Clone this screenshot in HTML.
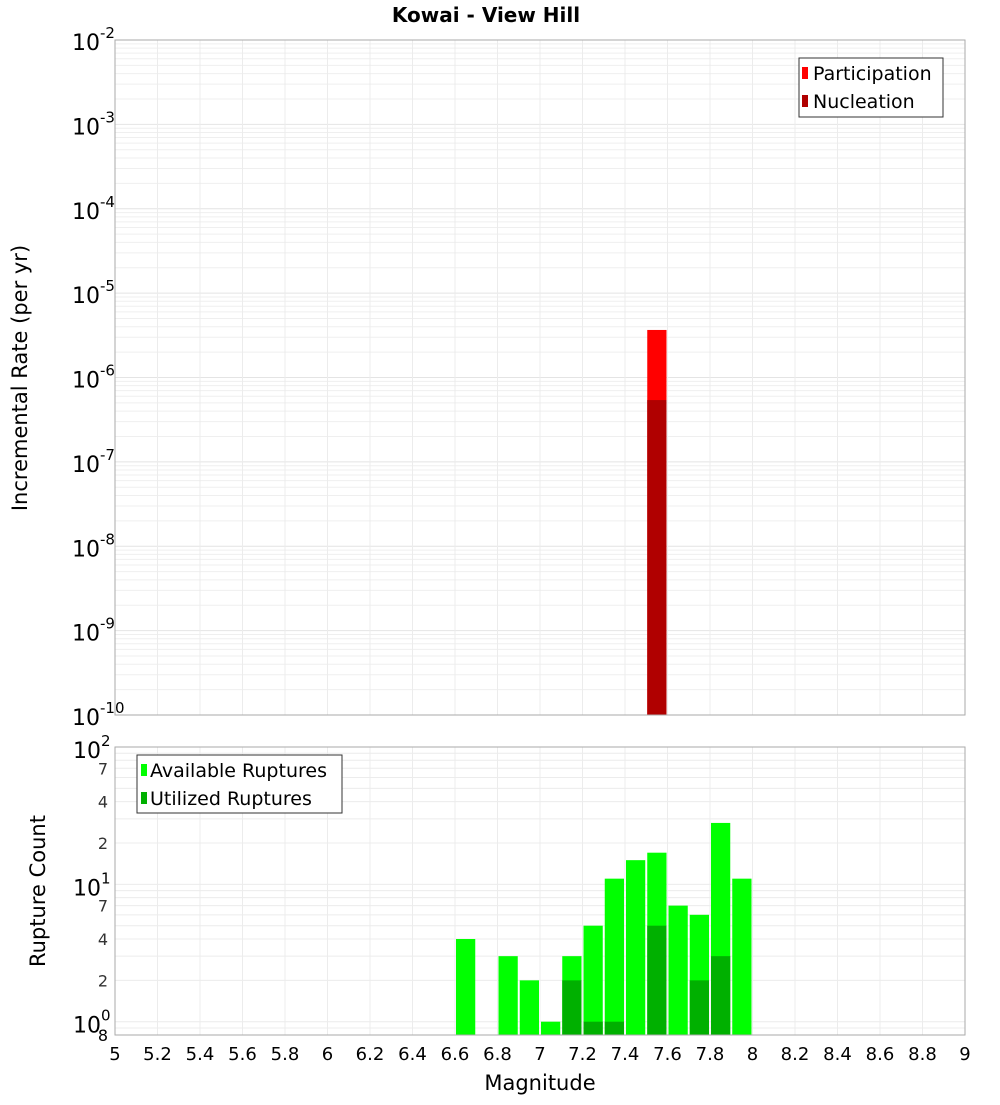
<!DOCTYPE html>
<html><head><meta charset="utf-8"><style>
body{margin:0;background:#fff}
svg text{font-family:"DejaVu Sans","Liberation Sans",sans-serif}
</style></head><body>
<svg id="c" width="1000" height="1100" xmlns="http://www.w3.org/2000/svg">
<text x="486" y="22" text-anchor="middle" font-size="20" font-weight="bold">Kowai - View Hill</text>
<g id="topplot"></g>
<g id="botplot"></g>
<text x="540" y="1090" text-anchor="middle" font-size="21">Magnitude</text>
<text transform="translate(27,378) rotate(-90)" text-anchor="middle" font-size="21">Incremental Rate (per yr)</text>
<text transform="translate(45,891) rotate(-90)" text-anchor="middle" font-size="21">Rupture Count</text>
</svg>
<script>
const xTicks=[5,5.2,5.4,5.6,5.8,6,6.2,6.4,6.6,6.8,7,7.2,7.4,7.6,7.8,8,8.2,8.4,8.6,8.8,9];
const xTickLabels=["5","5.2","5.4","5.6","5.8","6","6.2","6.4","6.6","6.8","7","7.2","7.4","7.6","7.8","8","8.2","8.4","8.6","8.8","9"];
const rateMags=[7.55];
const participation=[3.66e-6];
const nucleation=[5.4e-7];
const topDecades=[-2,-3,-4,-5,-6,-7,-8,-9,-10];
const countMags=[6.65,6.85,6.95,7.05,7.15,7.25,7.35,7.45,7.55,7.65,7.75,7.85,7.95];
const available=[4,3,2,1,3,5,11,15,17,7,6,28,11];
const utilized=[0,0,0,0,2,1,1,0,5,0,2,3,0];
const botMajor=[2,1,0];
const botMinor=["7","4","2"];

const NS="http://www.w3.org/2000/svg";
const X0=115,X1=965;
const sx=m=>X0+(m-5)/4*(X1-X0);
const TY0=40,TY1=715;
const ty=v=>TY0+(-2-Math.log10(v))/8*(TY1-TY0);
const BY0=747,BY1=1035,BMIN=0.8,BMAX=100;
const by=v=>BY0+(Math.log10(BMAX)-Math.log10(v))/(Math.log10(BMAX)-Math.log10(BMIN))*(BY1-BY0);
function el(p,t,a,txt){const e=document.createElementNS(NS,t);for(const k in a)e.setAttribute(k,a[k]);if(txt!=null)e.textContent=txt;p.appendChild(e);return e;}
const topG=document.getElementById('topplot'),botG=document.getElementById('botplot');

for(let d=-10;d<-2;d++)for(let k=1;k<10;k++){const y=ty(k*Math.pow(10,d));
 const g=el(topG,'line',{x1:X0,x2:X1,y1:y,y2:y,stroke:k==1?'#e4e4e4':'#efefef','stroke-width':1});
 
 }
xTicks.forEach(t=>{const g=el(topG,'line',{x1:sx(t),x2:sx(t),y1:TY0,y2:TY1,stroke:'#ececec'});
 
 });
rateMags.forEach((m,i)=>{
 const w=(sx(0.1)-sx(0))-2,x=sx(m)-w/2;
 const p=el(topG,'rect',{x:x,y:ty(participation[i]),width:w,height:TY1-ty(participation[i]),fill:'#ff0000'});
 
 
 const n=el(topG,'rect',{x:x,y:ty(nucleation[i]),width:w,height:TY1-ty(nucleation[i]),fill:'#b00000'});
 
 
});
const tf=el(topG,'rect',{x:X0,y:TY0,width:X1-X0,height:TY1-TY0,fill:'none',stroke:'#aaa'});


topDecades.forEach(d=>{const y=ty(Math.pow(10,d));
 const t=el(topG,'text',{x:72,y:y+10,'font-size':22},'10');
 
 
 el(t,'tspan',{dy:-12,'font-size':15},String(d));});
{const g=el(topG,'g',{});
 
 
 el(g,'rect',{x:799,y:58,width:144,height:59,fill:'#fff',stroke:'#333'});
 el(g,'rect',{x:802,y:67,width:6,height:12,fill:'#ff0000'});
 el(g,'rect',{x:802,y:95,width:6,height:12,fill:'#b00000'});
 el(g,'text',{x:813,y:80,'font-size':19},'Participation');
 el(g,'text',{x:813,y:108,'font-size':19},'Nucleation');}

for(let d=-1;d<2;d++)for(let k=1;k<10;k++){const v=k*Math.pow(10,d);if(v<BMIN||v>BMAX)continue;const y=by(v);
 const g=el(botG,'line',{x1:X0,x2:X1,y1:y,y2:y,stroke:'#ececec'});
 
 }
xTicks.forEach(t=>{const g=el(botG,'line',{x1:sx(t),x2:sx(t),y1:BY0,y2:BY1,stroke:'#ececec'});
 
 });
countMags.forEach((m,i)=>{
 const w=(sx(0.1)-sx(0))-2,x=sx(m)-w/2;
 const a=el(botG,'rect',{x:x,y:by(available[i]),width:w,height:BY1-by(available[i]),fill:'#00ff00'});
 
 
 if(utilized[i]>0){const u=el(botG,'rect',{x:x,y:by(utilized[i]),width:w,height:BY1-by(utilized[i]),fill:'#00b000'});
 
 }
});
const bf=el(botG,'rect',{x:X0,y:BY0,width:X1-X0,height:BY1-BY0,fill:'none',stroke:'#aaa'});


botMajor.forEach(d=>{const y=by(Math.pow(10,d));
 const t=el(botG,'text',{x:73,y:y+11,'font-size':22},'10');
 
 
 el(t,'tspan',{dy:-12,'font-size':15},String(d));});
[1,0].forEach(d=>botMinor.forEach(s=>{const y=by(+s*Math.pow(10,d));
 const t=el(botG,'text',{x:108,y:y+6,'font-size':16,'text-anchor':'end',fill:'#333'},s);
 
 }));
{const t=el(botG,'text',{x:108,y:by(BMIN)+6,'font-size':16,'text-anchor':'end'},'8');
 
 }
xTicks.forEach((t,i)=>{const e=el(botG,'text',{x:sx(t),y:1060,'font-size':18,'text-anchor':'middle'},xTickLabels[i]);
 
 });
{const g=el(botG,'g',{});
 
 
 el(g,'rect',{x:137,y:755,width:205,height:58,fill:'#fff',stroke:'#333'});
 el(g,'rect',{x:141,y:764,width:6,height:12,fill:'#00ff00'});
 el(g,'rect',{x:141,y:792,width:6,height:12,fill:'#00b000'});
 el(g,'text',{x:150,y:777,'font-size':19},'Available Ruptures');
 el(g,'text',{x:150,y:805,'font-size':19},'Utilized Ruptures');}
</script>
</body></html>
